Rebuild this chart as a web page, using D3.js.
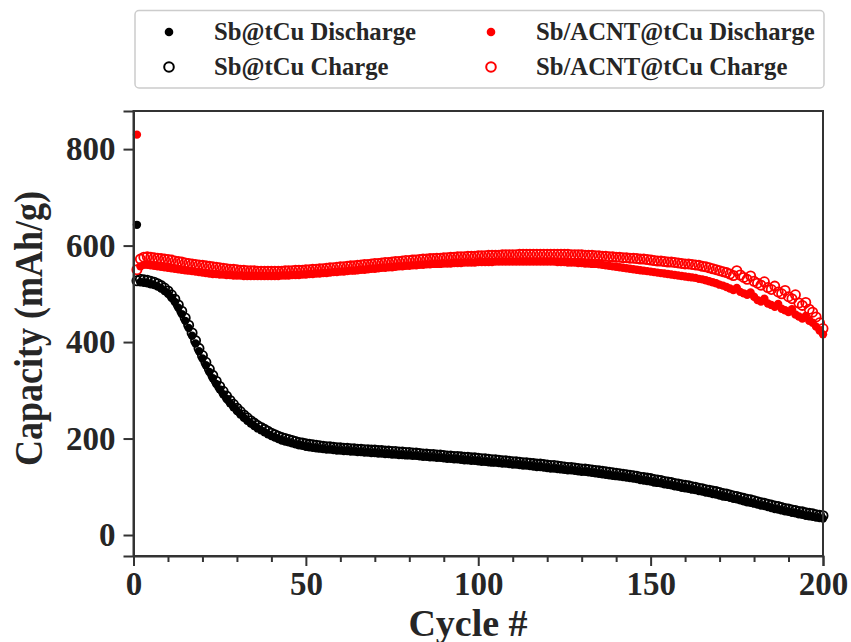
<!DOCTYPE html>
<html><head><meta charset="utf-8">
<script src="https://cdn.jsdelivr.net/npm/d3@7"></script>
<style>body{margin:0;background:#fff}svg{display:block}text{font-family:"Liberation Serif","Times New Roman",serif;font-weight:bold;fill:#262626}</style>
</head><body><div id="chart"></div>
<script>
const cycles = d3.range(1, 201);
const sbDischarge = [643,
524,523,522,520,518,515,511,506,500,
492,483,471,458,444,429,413,397,381,366,
352,338,325,313,302,292,282,273,265,257,
250,243,237,231,226,221,217,213,209,205,
202,199,196,194,192,190,188,186,185,183,
182,181,180,179,178,177,177,176,175,175,
174,174,173,173,172,172,171,171,170,170,
169,169,168,168,167,167,166,166,165,165,
164,164,163,162,162,161,161,160,160,159,
158,158,157,157,156,155,155,154,154,153,
152,152,151,150,150,149,148,148,147,146,
146,145,144,144,143,142,141,141,140,139,
138,138,137,136,135,134,134,133,132,131,
131,130,129,128,127,126,125,124,123,122,
121,120,119,118,117,116,114,113,112,111,
109,108,107,105,104,103,101,100,98,97,
96,94,93,91,90,88,87,85,84,82,
80,79,77,75,74,72,70,68,67,65,
63,61,60,58,56,54,53,51,49,48,
46,45,43,42,40,39,38,36,35,34];
const sbCharge = [527,
530,529,528,526,524,521,517,512,506,
498,489,477,464,450,435,419,403,387,372,
358,344,331,319,308,298,288,279,271,263,
256,249,243,237,232,227,223,219,215,211,
208,205,202,200,198,196,194,192,191,189,
188,187,186,185,184,183,183,182,181,181,
180,180,179,179,178,178,177,177,176,176,
175,175,174,174,173,173,172,172,171,171,
170,170,169,168,168,167,167,166,166,165,
164,164,163,163,162,161,161,160,160,159,
158,158,157,156,156,155,154,154,153,152,
152,151,150,150,149,148,147,147,146,145,
144,144,143,142,141,140,140,139,138,137,
137,136,135,134,133,132,131,130,129,128,
127,126,125,124,123,122,120,119,118,117,
115,114,113,111,110,109,107,106,104,103,
102,100,99,97,96,94,93,91,90,88,
86,85,83,81,80,78,76,74,73,71,
69,67,66,64,62,60,59,57,55,54,
52,51,49,48,46,45,44,42,41,40];
const acntDischarge = [830,
557,560,560,559,558,557,556,555,554,
553,552,551,550,549,548,547,546,545,544,
543,542,541,541,540,540,539,539,538,538,
538,537,537,537,537,537,537,537,537,537,
537,537,538,538,538,539,539,539,540,540,
541,541,542,542,543,543,544,545,545,546,
546,547,548,548,549,550,550,551,552,552,
553,554,554,555,555,556,557,557,558,558,
559,559,560,560,561,561,562,562,562,563,
563,563,564,564,564,565,565,565,565,566,
566,566,566,566,567,567,567,567,567,567,
567,567,567,567,567,567,567,567,567,567,
567,567,566,566,566,565,565,565,564,564,
563,563,562,562,561,560,559,558,557,556,
555,554,553,552,551,550,549,548,547,546,
545,544,543,542,541,540,539,538,537,536,
535,534,533,531,530,528,526,524,522,519,
517,514,511,508,512,504,501,498,503,494,
487,484,490,480,477,473,479,469,466,462,
468,457,453,449,454,444,440,432,424,416];
const acntCharge = [550,
572,576,577,576,575,574,573,572,571,
570,568,567,566,564,563,562,561,560,559,
558,557,556,555,554,553,552,551,551,550,
549,549,548,548,548,547,547,547,547,547,
547,547,547,548,548,548,549,549,549,550,
550,551,551,552,552,553,554,554,555,556,
556,557,558,558,559,560,561,561,562,563,
563,564,565,565,566,567,567,568,569,569,
570,570,571,572,572,573,573,574,574,575,
575,576,576,577,577,577,578,578,578,579,
579,579,580,580,580,580,581,581,581,581,
581,582,582,582,582,582,582,582,582,582,
582,582,582,582,582,582,581,581,581,581,
580,580,580,579,579,578,578,577,577,576,
576,575,575,574,574,573,572,572,571,570,
569,568,568,567,566,566,565,564,563,562,
562,561,560,559,557,556,554,552,550,548,
546,544,541,538,548,539,534,530,537,526,
522,518,525,513,509,516,504,500,507,494,
490,498,481,476,482,468,462,452,440,428];
const xTicks = [0, 50, 100, 150, 200];
const xMinorTicks = d3.range(0, 201, 10);
const yTicks = [0, 200, 400, 600, 800];
const seriesNames = ["Sb@tCu Discharge", "Sb@tCu Charge", "Sb/ACNT@tCu Discharge", "Sb/ACNT@tCu Charge"];
const seriesColors = ["#000000", "#000000", "#ff0000", "#ff0000"];
const seriesFilled = [true, false, true, false];
const seriesValues = [sbDischarge, sbCharge, acntDischarge, acntCharge];

const W = 851, H = 642;
const L = 133.5, R = 823, T = 111, B = 556;
const svg = d3.select("#chart").append("svg").attr("width", W).attr("height", H);
const x = d3.scaleLinear().domain([0, 200]).range([L, R]);
const y = d3.scaleLinear().domain([-43.5, 879]).range([B, T]);

// data
seriesValues.forEach((vals, i) => {
  const g = svg.append("g");
  g.selectAll("circle").data(vals).join("circle")
    .attr("cx", (d, k) => x(cycles[k]))
    .attr("cy", d => y(d))
    .attr("r", seriesFilled[i] ? 4.2 : 4.6)
    .attr("fill", seriesFilled[i] ? seriesColors[i] : "none")
    .attr("stroke", seriesFilled[i] ? "none" : seriesColors[i])
    .attr("stroke-width", 1.8);
});

// frame
svg.append("rect").attr("x", L).attr("y", T).attr("width", R - L).attr("height", B - T)
  .attr("fill", "none").attr("stroke", "#333").attr("stroke-width", 2);

// axes
svg.append("g").attr("transform", `translate(0,${B})`)
  .call(d3.axisBottom(x).tickValues(xTicks).tickFormat(d3.format("d")).tickSize(10).tickPadding(6));
svg.append("g").attr("transform", `translate(0,${B})`)
  .call(d3.axisBottom(x).tickValues(xMinorTicks.filter(v => v % 50 !== 0)).tickFormat("").tickSize(6))
  .call(g => g.select(".domain").remove());
svg.append("g").attr("transform", `translate(${L},0)`)
  .call(d3.axisLeft(y).tickValues(yTicks).tickFormat(d3.format("d")).tickSize(10).tickPadding(8));
svg.selectAll(".domain").attr("stroke", "#333").attr("stroke-width", 2);
svg.selectAll(".tick line").attr("stroke", "#333").attr("stroke-width", 2);
svg.selectAll(".tick text").attr("font-size", 33).attr("font-family", '"Liberation Serif", serif')
  .attr("font-weight", "bold").attr("fill", "#262626");

// axis titles
svg.append("text").attr("x", 468).attr("y", 636).attr("text-anchor", "middle")
  .attr("font-size", 38).text("Cycle #");
svg.append("text").attr("transform", `translate(42,${(T + B) / 2 - 5}) rotate(-90) scale(0.9,1)`)
  .attr("text-anchor", "middle").attr("font-size", 40).text("Capacity (mAh/g)");

// legend
svg.append("rect").attr("x", 135).attr("y", 10.5).attr("width", 689).attr("height", 77.5)
  .attr("rx", 4).attr("fill", "#fff").attr("stroke", "#cccccc").attr("stroke-width", 1.5);
const legPos = [[169, 32], [169, 67], [491, 32], [491, 67]];
seriesNames.forEach((name, i) => {
  const [lx, ly] = legPos[i];
  svg.append("circle").attr("cx", lx).attr("cy", ly)
    .attr("r", seriesFilled[i] ? 4.3 : 4.8)
    .attr("fill", seriesFilled[i] ? seriesColors[i] : "none")
    .attr("stroke", seriesFilled[i] ? "none" : seriesColors[i]).attr("stroke-width", 2);
  svg.append("text").attr("x", lx + 45).attr("y", ly + 8).attr("font-size", 24.7).text(name);
});
</script></body></html>
